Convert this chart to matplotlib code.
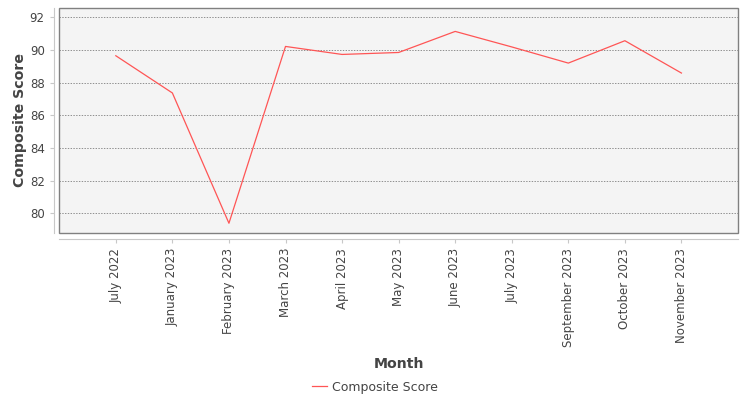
import matplotlib.pyplot as plt
from matplotlib.patches import Rectangle

# Datos
meses = ["July 2022", "January 2023", "February 2023", "March 2023", "April 2023",
         "May 2023", "June 2023", "July 2023", "September 2023", "October 2023",
         "November 2023"]
puntaje = [89.65, 87.37, 79.39, 90.22, 89.73, 89.85, 91.14, 90.19, 89.20, 90.57, 88.59]

gris = "#444444"

fig = plt.figure(figsize=(7.5, 4), dpi=100)
ax = fig.add_axes([0.079, 0.417, 0.905, 0.562])
ax.set_facecolor("#f4f4f4")

x = list(range(len(meses)))
linea, = ax.plot(x, puntaje, color="#ff5555", linewidth=0.9, label="Composite Score")

# Borde del área del gráfico y ejes desplazados (estilo JFreeChart)
ax.add_patch(Rectangle((0, 0), 1, 1, transform=ax.transAxes, fill=False,
                       edgecolor="#808080", linewidth=1.0, clip_on=False, zorder=5))
for lado in ["top", "right"]:
    ax.spines[lado].set_visible(False)
ax.spines["left"].set_position(("outward", 4))
ax.spines["bottom"].set_position(("outward", 4))
ax.spines["left"].set_color("#c8c8c8")
ax.spines["bottom"].set_color("#c8c8c8")

ax.set_xlim(-1, len(meses))
ax.set_ylim(78.78, 92.55)
ax.set_yticks(range(80, 93, 2))
ax.set_xticks(x)
ax.set_xticklabels(meses)

ax.grid(axis="y", color="#666666", linestyle=(0, (2, 2)), linewidth=0.5)
ax.set_axisbelow(True)

ax.tick_params(axis="both", colors="#c8c8c8", labelcolor=gris, labelsize=8.5, length=3, width=0.8)
ax.tick_params(axis="x", labelrotation=90)

fig.text(0.027, 0.70, "Composite Score", rotation=90, ha="center", va="center",
         fontsize=10.2, fontweight="bold", color=gris)
fig.text(0.532, 0.09, "Month", ha="center", va="center",
         fontsize=10.2, fontweight="bold", color=gris)

fig.legend(handles=[linea], loc="center", bbox_to_anchor=(0.5, 0.032), frameon=False,
           fontsize=9, labelcolor=gris, handlelength=1.2, handletextpad=0.4)

fig.savefig("out.png", dpi=100)
